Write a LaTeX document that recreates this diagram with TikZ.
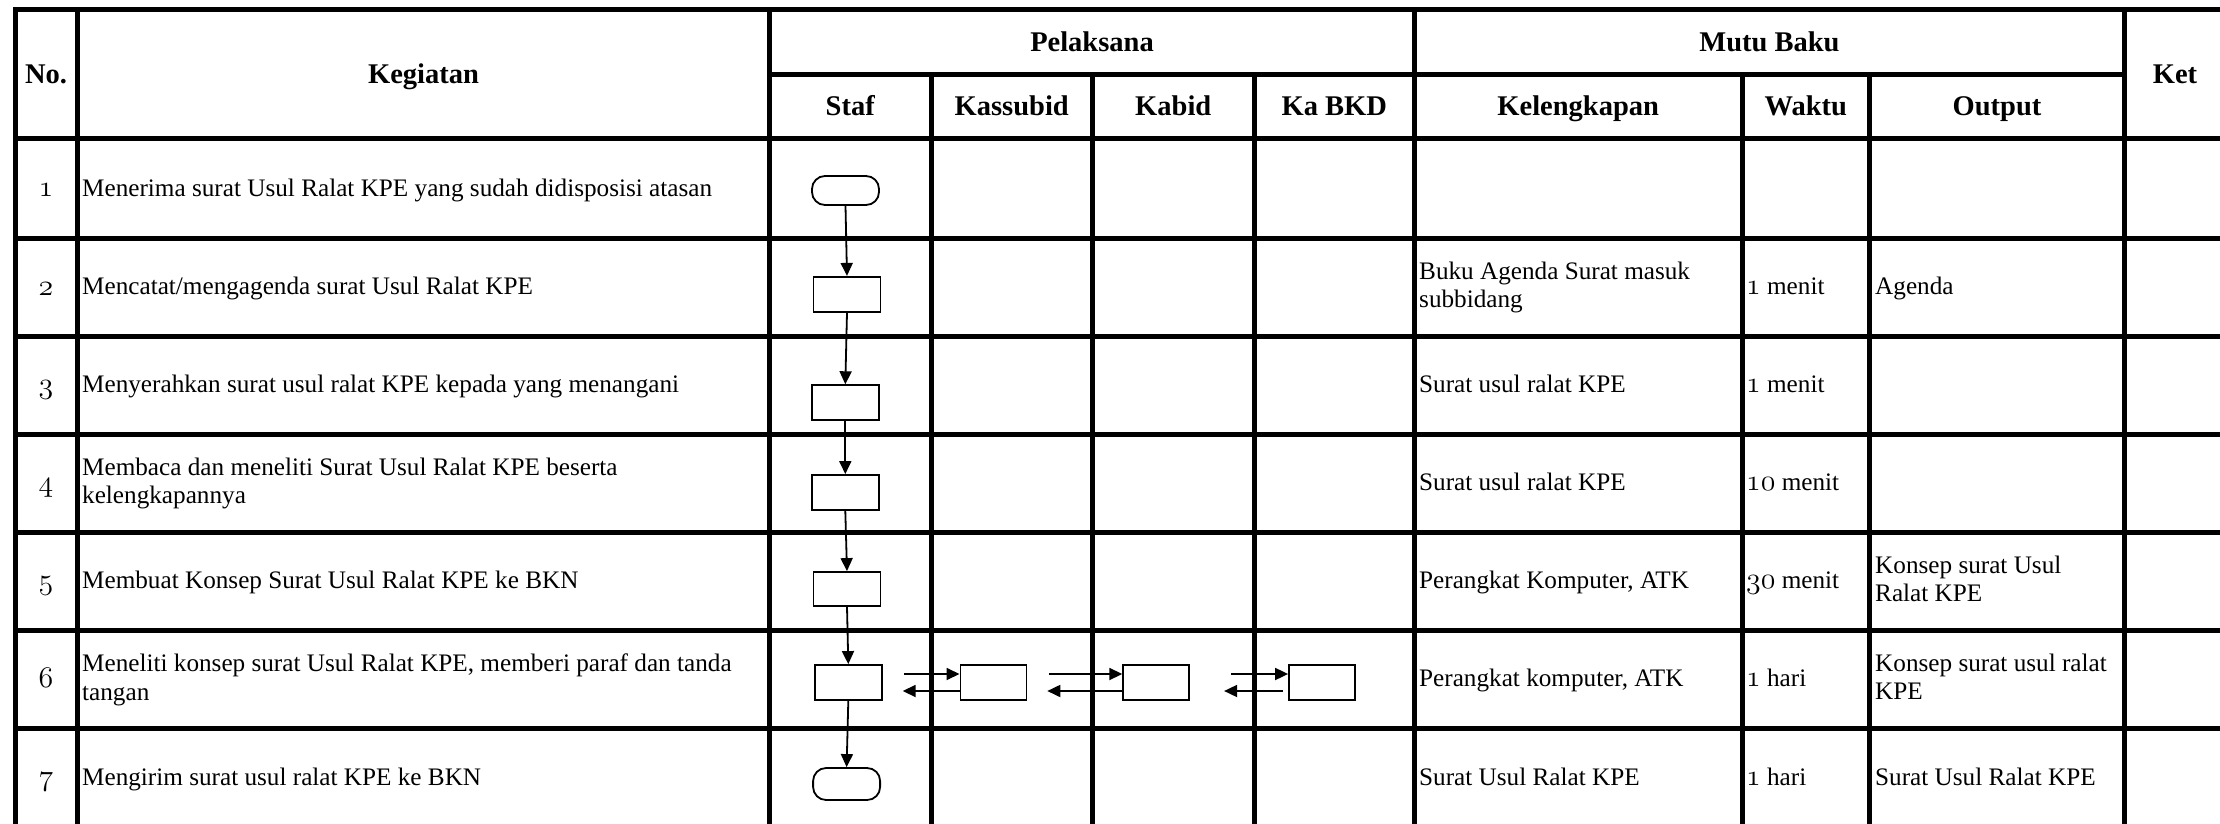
\documentclass[tikz,border=0pt]{standalone}
\usepackage{graphicx}
\usepackage{fontspec}
\setmainfont{Liberation Serif}
\usetikzlibrary{arrows.meta}
\newcommand\osn[1]{\scalebox{1.2}{\usefont{OML}{cmm}{m}{it}#1}}
\begin{document}
\begin{tikzpicture}[x=1pt,y=-1pt,
  gridline/.style={line width=5pt, line cap=rect},
  hdtext/.style={font=\bfseries\fontsize{28.5}{32}\selectfont, inner sep=0pt, yshift=-2.6pt,
    execute at begin node=\strut},
  bodytext/.style={font=\fontsize{25.2}{28.4}\selectfont, inner sep=0pt, anchor=west, align=left, yshift=-2pt,
    execute at begin node=\strut, execute at end node=\strut},
  numtext/.style={font=\fontsize{25.2}{28.4}\selectfont, inner sep=0pt, anchor=base},
  flowbox/.style={draw, line width=1.8pt, minimum width=67pt, minimum height=35pt, inner sep=0pt},
  flowterm/.style={flowbox, rounded corners=13pt},
  flowarrow/.style={line width=1.8pt, -{Triangle[length=13pt,width=12pt]}},
]
\useasboundingbox (0,0) rectangle (2220,824);
\fill[white] (0,0) rectangle (2220,824);
\clip (0,0) rectangle (2220,824);

% ---- grid ----
\draw[gridline] (15,9.5) -- (2240,9.5);
\draw[gridline] (769.5,75) -- (2124.5,75);
\foreach \yy in {139,238,336,434,532,630.5,728}
  \draw[gridline] (15,\yy) -- (2240,\yy);
\foreach \xx in {15,77.5,769.5,1414.5,2124.5}
  \draw[gridline] (\xx,9.5) -- (\xx,840);
\foreach \xx in {931,1092.5,1254,1742,1869.5}
  \draw[gridline] (\xx,75) -- (\xx,840);

% ---- headers ----
\node[hdtext] (hno) at (46,74.5) {No.};
\node[hdtext] (hkeg) at (423.5,74.5) {Kegiatan};
\node[hdtext] (hpel) at (1092,42.25) {Pelaksana};
\node[hdtext] (hstaf) at (850.25,107) {Staf};
\node[hdtext] (hkas) at (1011.75,107) {Kassubid};
\node[hdtext] (hkab) at (1173.25,107) {Kabid};
\node[hdtext] (hbkd) at (1334.25,107) {Ka BKD};
\node[hdtext] (hmutu) at (1769.5,42.25) {Mutu Baku};
\node[hdtext] (hkel) at (1578.25,107) {Kelengkapan};
\node[hdtext] (hwak) at (1805.75,107) {Waktu};
\node[hdtext] (hout) at (1997,107) {Output};
\node[hdtext] (hket) at (2175,74.5) {Ket};

% ---- numbers ----
\node[numtext] (n1) at (46,196.75) {\osn{1}};
\node[numtext] (n2) at (46,295) {\osn{2}};
\node[numtext] (n3) at (46,393) {\osn{3}};
\node[numtext] (n4) at (46,491) {\osn{4}};
\node[numtext] (n5) at (46,589.25) {\osn{5}};
\node[numtext] (n6) at (46,687.25) {\osn{6}};
\node[numtext] (n7) at (46,785.5) {\osn{7}};

% ---- kegiatan ----
\node[bodytext] (k1) at (82,188.75) {Menerima surat Usul Ralat KPE yang sudah didisposisi atasan};
\node[bodytext] (k2) at (82,287) {Mencatat/mengagenda surat Usul Ralat KPE};
\node[bodytext] (k3) at (82,385) {Menyerahkan surat usul ralat KPE kepada yang menangani};
\node[bodytext] (k4) at (82,483) {Membaca dan meneliti Surat Usul Ralat KPE beserta\\kelengkapannya};
\node[bodytext] (k5) at (82,581.25) {Membuat Konsep Surat Usul Ralat KPE ke BKN};
\node[bodytext] (k6) at (82,679.25) {Meneliti konsep surat Usul Ralat KPE, memberi paraf dan tanda\\tangan};
\node[bodytext] (k7) at (82,777.5) {Mengirim surat usul ralat KPE ke BKN};

% ---- mutu baku ----
\node[bodytext] (kel2) at (1419,287) {Buku Agenda Surat masuk\\subbidang};
\node[bodytext] (wak2) at (1746,287) {\osn{1} menit};
\node[bodytext] (out2) at (1875,287) {Agenda};
\node[bodytext] (kel3) at (1419,385) {Surat usul ralat KPE};
\node[bodytext] (wak3) at (1746,385) {\osn{1} menit};
\node[bodytext] (kel4) at (1419,483) {Surat usul ralat KPE};
\node[bodytext] (wak4) at (1746,483) {\osn{10} menit};
\node[bodytext] (kel5) at (1419,581.25) {Perangkat Komputer, ATK};
\node[bodytext] (wak5) at (1746,581.25) {\osn{30} menit};
\node[bodytext] (out5) at (1875,581.25) {Konsep surat Usul\\Ralat KPE};
\node[bodytext] (kel6) at (1419,679.25) {Perangkat komputer, ATK};
\node[bodytext] (wak6) at (1746,679.25) {\osn{1} hari};
\node[bodytext] (out6) at (1875,679.25) {Konsep surat usul ralat\\KPE};
\node[bodytext] (kel7) at (1419,777.5) {Surat Usul Ralat KPE};
\node[bodytext] (wak7) at (1746,777.5) {\osn{1} hari};
\node[bodytext] (out7) at (1875,777.5) {Surat Usul Ralat KPE};

% ---- flow shapes ----
\node[flowterm, minimum height=29pt] (t1) at (845.5,190.5) {};
\node[flowbox] (b2) at (847,294.3) {};
\node[flowbox] (b3) at (845.3,402.7) {};
\node[flowbox] (b4) at (845.3,492.5) {};
\node[flowbox, minimum height=34pt] (b5) at (847,589) {};
\node[flowbox] (b6a) at (848.3,682.5) {};
\node[flowbox, minimum width=66pt] (b6b) at (993.4,682.5) {};
\node[flowbox, minimum width=66pt] (b6c) at (1156.2,682.5) {};
\node[flowbox, minimum width=66pt] (b6d) at (1322,682.5) {};
\node[flowterm, minimum height=32pt] (t7) at (846.6,784) {};

% ---- connectors ----
\draw[flowarrow] (t1.south) -- (b2.north);
\draw[flowarrow] (b2.south) -- (b3.north);
\draw[flowarrow] (b3.south) -- (b4.north);
\draw[flowarrow] (b4.south) -- (b5.north);
\draw[flowarrow] (b5.south) -- (b6a.north);
\draw[flowarrow] (b6a.south) -- (t7.north);

\draw[flowarrow, shorten <=21.6pt] ([yshift=8.5pt]b6a.east) -- ([yshift=8.5pt]b6b.west);
\draw[flowarrow, shorten >=20pt] ([yshift=-8.5pt]b6b.west) -- ([yshift=-8.5pt]b6a.east);
\draw[flowarrow, shorten <=21.6pt] ([yshift=8.5pt]b6b.east) -- ([yshift=8.5pt]b6c.west);
\draw[flowarrow, shorten >=20pt] ([yshift=-8.5pt]b6c.west) -- ([yshift=-8.5pt]b6b.east);
\draw[flowarrow, shorten <=41pt] ([yshift=8.5pt]b6c.east) -- ([yshift=8.5pt]b6d.west);
\draw[flowarrow, shorten <=5pt, shorten >=34pt] ([yshift=-8.5pt]b6d.west) -- ([yshift=-8.5pt]b6c.east);
\end{tikzpicture}
\end{document}
